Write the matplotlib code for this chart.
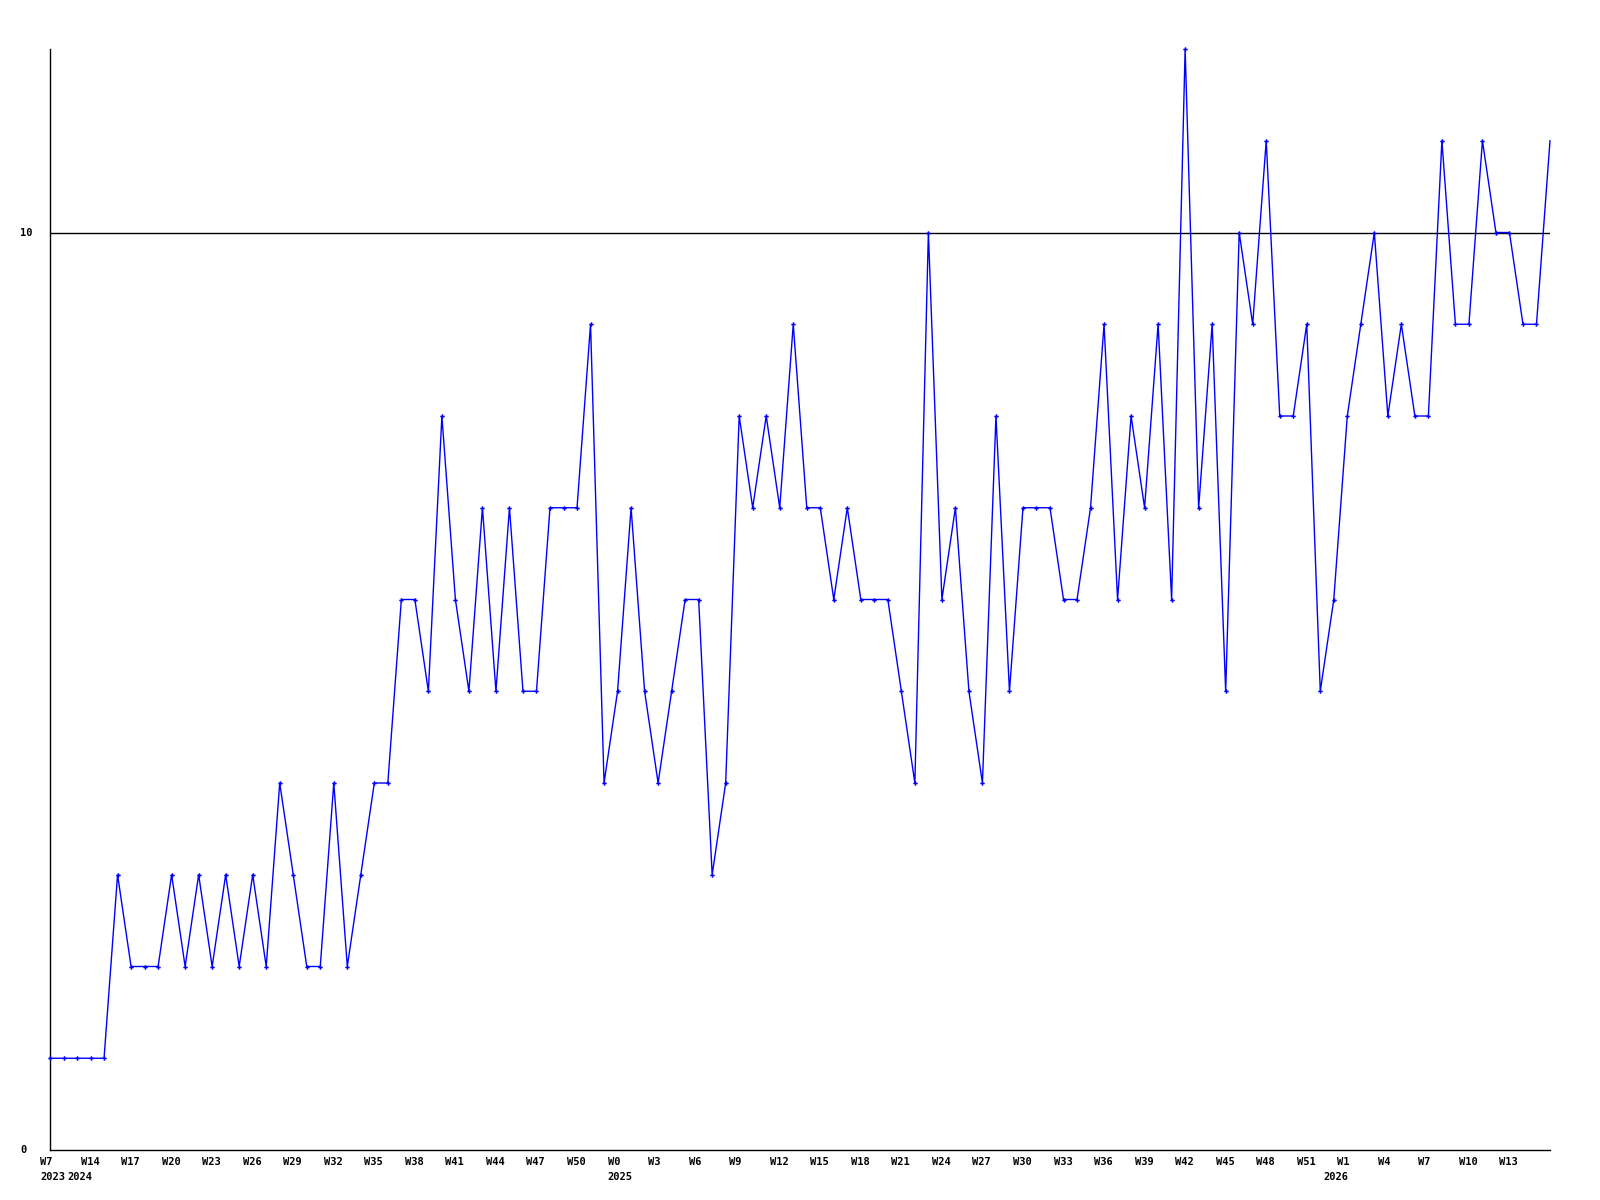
import matplotlib
matplotlib.use("Agg")
import matplotlib.pyplot as plt

# ---- data ----
values = [1, 1, 1, 1, 1, 3, 2, 2, 2, 3, 2, 3, 2, 3, 2, 3, 2, 4, 3, 2,
          2, 4, 2, 3, 4, 4, 6, 6, 5, 8, 6, 5, 7, 5, 7, 5, 5, 7, 7, 7,
          9, 4, 5, 7, 5, 4, 5, 6, 6, 3, 4, 8, 7, 8, 7, 9, 7, 7, 6, 7,
          6, 6, 6, 5, 4, 10, 6, 7, 5, 4, 8, 5, 7, 7, 7, 6, 6, 7, 9, 6,
          8, 7, 9, 6, 12, 7, 9, 5, 10, 9, 11, 8, 8, 9, 5, 6, 8, 9, 10, 8,
          9, 8, 8, 11, 9, 9, 11, 10, 10, 9, 9, 11]
week_labels = ["W7", "W14", "W17", "W20", "W23", "W26", "W29", "W32", "W35",
               "W38", "W41", "W44", "W47", "W50", "W0", "W3", "W6", "W9",
               "W12", "W15", "W18", "W21", "W24", "W27", "W30", "W33", "W36",
               "W39", "W42", "W45", "W48", "W51", "W1", "W4", "W7", "W10", "W13"]
year_labels = ["2023", "2024", "2025", "2026"]
year_positions = [0, 2, 42, 95]
ref_value = 10
y_max = 12

fig = plt.figure(figsize=(16, 12), dpi=100)
ax = fig.add_axes([50 / 1600, 50 / 1200, 1500 / 1600, 1101 / 1200])

x = list(range(len(values)))
ax.plot(x, values, color="#0000ff", linewidth=1.0, marker="P",
        markersize=3.2, markeredgewidth=0, markevery=list(range(len(values) - 1)),
        clip_on=False, zorder=3)
ax.axhline(ref_value, color="black", linewidth=1.0, zorder=2)

ax.set_xlim(0, len(values) - 1)
ax.set_ylim(0, y_max)
for s in ["top", "right"]:
    ax.spines[s].set_visible(False)
for s in ["left", "bottom"]:
    ax.spines[s].set_linewidth(1.0)
    ax.spines[s].set_color("black")
ax.set_xticks([])
ax.set_yticks([])

font = dict(family="DejaVu Sans Mono", fontweight="bold", fontsize=7.5, color="black")

for k, lab in enumerate(week_labels):
    ax.annotate(lab, xy=(k * 3, 0), xycoords=("data", "axes fraction"),
                xytext=(-10, -7), textcoords="offset pixels",
                ha="left", va="top", annotation_clip=False, **font)
for pos, lab in zip(year_positions, year_labels):
    ax.annotate(lab, xy=(pos, 0), xycoords=("data", "axes fraction"),
                xytext=(-10, -22), textcoords="offset pixels",
                ha="left", va="top", annotation_clip=False, **font)

for val in [0, ref_value]:
    ax.annotate(str(val), xy=(0, val), xycoords=("axes fraction", "data"),
                xytext=(-30, 0), textcoords="offset pixels",
                ha="left", va="center", annotation_clip=False, **font)

fig.savefig("out.png", dpi=100)
